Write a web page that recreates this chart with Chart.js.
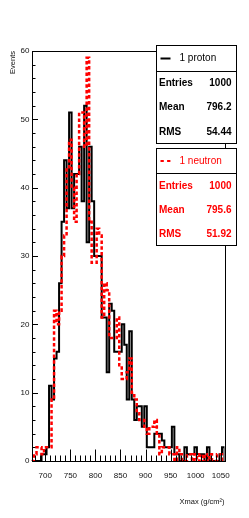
<!DOCTYPE html>
<html>
<head>
<meta charset="utf-8">
<script src="https://cdn.jsdelivr.net/npm/chart.js@4.4.0/dist/chart.umd.min.js"></script>
<style>
html, body { margin: 0; padding: 0; background: #fff; }
canvas { display: block; }
</style>
</head>
<body>
<canvas id="xmax-chart" width="249" height="518"></canvas>
<script>
// histogram binning (5 g/cm2 bins)
const xMin = 672.5;
const xMax = 1057.5;
const binWidth = 5;

// counts per bin
const protonCounts = [
    0, 0, 0, 0, 1, 1, 2, 11, 9, 15,
    16, 26, 35, 44, 37, 51, 37, 42, 42, 46,
    38, 52, 32, 46, 38, 30, 30, 30, 21, 21,
    13, 23, 22, 16, 16, 16, 20, 17, 9, 19,
    9, 6, 8, 8, 5, 8, 2, 2, 2, 4,
    4, 4, 3, 2, 2, 2, 5, 1, 1, 0,
    0, 2, 1, 1, 1, 2, 1, 1, 1, 0,
    2, 0, 0, 0, 0, 1, 2
];
const neutronCounts = [
    0, 1, 2, 2, 1, 2, 2, 2, 9, 22,
    20, 22, 30, 33, 43, 47, 40, 35, 42, 51,
    51, 46, 59, 35, 29, 29, 34, 33, 21, 26,
    25, 18, 18, 18, 21, 14, 12, 12, 13, 15,
    10, 9, 7, 6, 6, 5, 4, 5, 5, 6,
    4, 1, 2, 2, 2, 1, 1, 0, 2, 1,
    0, 0, 1, 1, 0, 1, 0, 1, 0, 1,
    0, 1, 0, 0, 1, 1, 0
];

const xTickValues = [700, 750, 800, 850, 900, 950, 1000, 1050];
const yTickValues = [0, 10, 20, 30, 40, 50, 60];

const statLabels = ['Entries', 'Mean', 'RMS'];
const protonStats = ['1000', '796.2', '54.44'];
const neutronStats = ['1000', '795.6', '51.92'];

const FONT = "'Liberation Sans', Arial, Helvetica, sans-serif";

function toSteps(counts) {
    const pts = counts.map((c, i) => ({x: xMin + i * binWidth, y: c}));
    pts.push({x: xMin + counts.length * binWidth, y: 0});
    return pts;
}

// frame + inward ROOT style ticks
const framePlugin = {
    id: 'frame',
    afterDatasetsDraw(chart) {
        const {ctx, chartArea: a, scales: {x, y}} = chart;
        const L = Math.round(a.left) + 0.5, R = Math.round(a.right) + 0.5;
        const T = Math.round(a.top) + 0.5, B = Math.round(a.bottom) + 0.5;
        ctx.save();
        ctx.strokeStyle = '#000';
        ctx.lineWidth = 1;
        ctx.strokeRect(L, T, R - L, B - T);
        ctx.beginPath();
        for (let v = 0; v <= 60; v += 2) {
            const py = Math.round(y.getPixelForValue(v)) + 0.5;
            const len = v % 10 === 0 ? 5.5 : 3;
            ctx.moveTo(L, py);
            ctx.lineTo(L + len, py);
        }
        for (let v = 680; v <= 1050; v += 10) {
            const px = Math.round(x.getPixelForValue(v)) + 0.5;
            const len = v % 50 === 0 ? 12 : 6;
            ctx.moveTo(px, B);
            ctx.lineTo(px, B - len);
        }
        ctx.stroke();
        ctx.restore();
    }
};

function drawStatBox(ctx, top, height, divider, color, dashed, title, values, rowY) {
    const left = 156.5, width = 80;
    ctx.fillStyle = '#fff';
    ctx.fillRect(left, top, width, height);
    ctx.strokeStyle = '#000';
    ctx.lineWidth = 1;
    ctx.strokeRect(left, top, width, height);
    ctx.beginPath();
    ctx.moveTo(left, divider);
    ctx.lineTo(left + width, divider);
    ctx.stroke();

    const titleY = (top + divider) / 2;
    ctx.strokeStyle = color;
    ctx.lineWidth = 2;
    ctx.setLineDash(dashed ? [3.3, 3.3] : []);
    ctx.beginPath();
    ctx.moveTo(160.5, titleY);
    ctx.lineTo(170.5, titleY);
    ctx.stroke();
    ctx.setLineDash([]);

    ctx.fillStyle = color;
    ctx.textBaseline = 'middle';
    ctx.font = '10px ' + FONT;
    ctx.textAlign = 'left';
    ctx.fillText(title, 179.5, titleY);

    ctx.font = 'bold 10px ' + FONT;
    statLabels.forEach((lab, i) => {
        ctx.textAlign = 'left';
        ctx.fillText(lab, 159, rowY[i]);
        ctx.textAlign = 'right';
        ctx.fillText(values[i], 231.5, rowY[i]);
    });
}

const statsPlugin = {
    id: 'stats',
    afterDraw(chart) {
        const ctx = chart.ctx;
        ctx.save();
        drawStatBox(ctx, 45.5, 98, 71.5, '#000', false, '1 proton', protonStats, [83, 107.5, 132]);
        drawStatBox(ctx, 148.5, 97, 173.5, '#ff0000', true, '1 neutron', neutronStats, [186, 210.5, 234.5]);
        ctx.restore();
    }
};

const ctx = document.getElementById('xmax-chart').getContext('2d');
const xmaxChart = new Chart(ctx, {
    type: 'line',
    data: {
        datasets: [{
            label: '1 neutron',
            data: toSteps(neutronCounts),
            borderColor: '#ff0000',
            borderWidth: 2.5,
            borderDash: [3.5, 2.3],
            stepped: 'before',
            pointRadius: 0,
            fill: false,
            order: 0
        }, {
            label: '1 proton',
            data: toSteps(protonCounts),
            borderColor: '#000',
            borderWidth: 2,
            stepped: 'before',
            pointRadius: 0,
            fill: false,
            order: 1
        }]
    },
    options: {
        responsive: false,
        animation: false,
        devicePixelRatio: 1,
        layout: {padding: {left: 0, right: 24.5, top: 51, bottom: 0}},
        plugins: {legend: {display: false}, tooltip: {enabled: false}},
        scales: {
            x: {
                type: 'linear',
                min: xMin,
                max: xMax,
                grid: {display: false, drawTicks: false},
                border: {display: false},
                afterBuildTicks: s => { s.ticks = xTickValues.map(v => ({value: v})); },
                afterFit: s => { s.height = 57; },
                ticks: {
                    padding: 10,
                    maxRotation: 0,
                    autoSkip: false,
                    color: '#111',
                    font: {family: FONT, size: 8},
                    callback: v => String(v)
                },
                title: {
                    display: true,
                    text: 'Xmax (g/cm²)',
                    align: 'end',
                    color: '#111',
                    padding: {top: 0, bottom: 12},
                    font: {family: FONT, size: 7.5}
                }
            },
            y: {
                min: 0,
                max: 60,
                grid: {display: false, drawTicks: false},
                border: {display: false},
                afterBuildTicks: s => { s.ticks = yTickValues.map(v => ({value: v})); },
                afterFit: s => { s.width = 31.5; },
                ticks: {
                    padding: 2,
                    color: '#111',
                    font: {family: FONT, size: 8},
                    callback: v => String(v)
                },
                title: {
                    display: true,
                    text: 'Events',
                    align: 'end',
                    color: '#111',
                    padding: {top: 8.5, bottom: 0},
                    font: {family: FONT, size: 7.5}
                }
            }
        }
    },
    plugins: [framePlugin, statsPlugin]
});
</script>
</body>
</html>
